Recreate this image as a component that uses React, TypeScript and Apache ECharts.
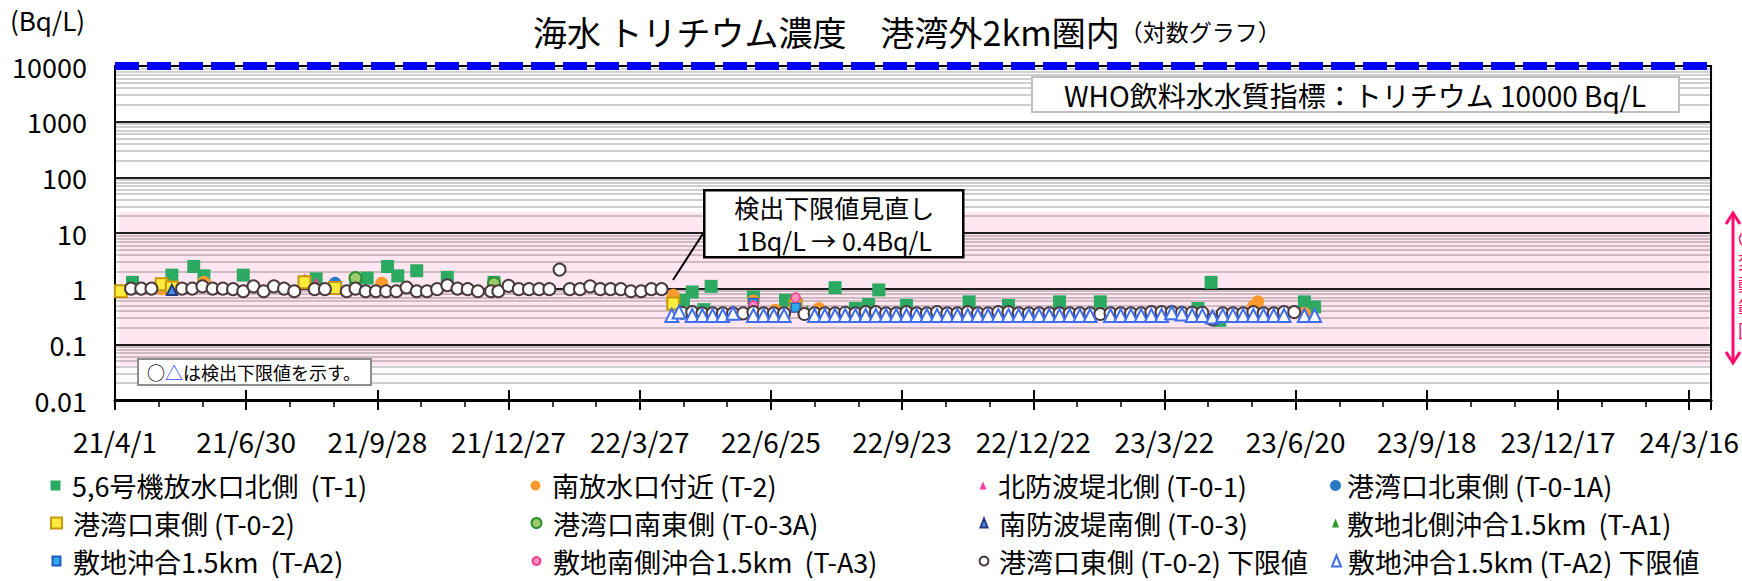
import React, { useEffect, useRef } from "react";
import * as echarts from "echarts";

const FONT = '"Noto Sans CJK JP", "Noto Sans", sans-serif';

// ---- axes ----
const ORIGIN = "2021-04-01";
const X_MAX_DATE = "2024-03-31";
const X_TICK_LABELS = ["21/4/1", "21/6/30", "21/9/28", "21/12/27", "22/3/27", "22/6/25", "22/9/23", "22/12/22", "23/3/22", "23/6/20", "23/9/18", "23/12/17", "24/3/16"];
const Y_TICK_LABELS = ["0.01", "0.1", "1", "10", "100", "1000", "10000"];
const WHO_LIMIT = 10000;
const BAND_RANGE = [23.5, 0.042];
const BAND_START = "2021-04-04";

// ---- series data: [date, Bq/L] ----
const T1: [string, number][] = [
  ["2021-04-13", 1.3], ["2021-05-10", 1.75], ["2021-05-25", 2.5], ["2021-06-01", 1.7], ["2021-06-28", 1.75],
  ["2021-08-17", 1.5], ["2021-09-13", 1.4], ["2021-09-21", 1.55], ["2021-10-05", 2.5], ["2021-10-12", 1.7],
  ["2021-10-25", 2.1], ["2021-11-15", 1.6], ["2021-12-17", 1.3],
  ["2022-04-26", 0.62], ["2022-05-02", 0.87], ["2022-05-10", 0.42], ["2022-05-15", 1.1], ["2022-06-13", 0.71],
  ["2022-07-05", 0.62], ["2022-08-08", 1.04], ["2022-08-22", 0.44], ["2022-08-31", 0.52], ["2022-09-07", 0.95],
  ["2022-09-26", 0.5], ["2022-11-08", 0.58], ["2022-12-05", 0.5], ["2023-01-09", 0.58], ["2023-02-06", 0.58],
  ["2023-04-14", 0.44], ["2023-04-23", 1.3], ["2023-04-29", 0.27], ["2023-06-26", 0.58], ["2023-07-03", 0.47],
];
const T2: [string, number][] = [
  ["2021-05-03", 1.0], ["2021-06-01", 1.3], ["2021-10-01", 1.25], ["2022-04-19", 0.76], ["2022-06-13", 0.6],
  ["2022-06-28", 0.41], ["2022-07-28", 0.44], ["2023-05-22", 0.48], ["2023-05-25", 0.58], ["2023-06-26", 0.36],
];
const T0_1: [string, number][] = [["2021-08-09", 1.6], ["2021-08-17", 1.35]];
const T0_1A: [string, number][] = [["2021-08-30", 1.25]];
const T0_2: [string, number][] = [
  ["2021-04-05", 0.9], ["2021-05-03", 1.2], ["2021-05-10", 1.05], ["2021-08-09", 1.3], ["2021-08-30", 1.03],
  ["2022-04-19", 0.54], ["2022-07-12", 0.5],
];
const T0_3A: [string, number][] = [["2021-09-13", 1.55], ["2021-12-17", 1.25]];
const T0_3: [string, number][] = [["2021-05-10", 0.95]];
const TA1: [string, number][] = [["2022-07-20", 0.44]];
const TA2: [string, number][] = [["2022-06-13", 0.55], ["2022-07-12", 0.46]];
const TA3: [string, number][] = [["2022-06-13", 0.5], ["2022-07-12", 0.69]];
const T0_2_LLD: [string, number][] = [
  ["2021-04-12", 1.0], ["2021-04-19", 1.0], ["2021-04-26", 1.0], ["2021-05-17", 1.0], ["2021-05-24", 1.0],
  ["2021-05-31", 1.1], ["2021-06-07", 1.0], ["2021-06-14", 1.0], ["2021-06-21", 0.98], ["2021-06-28", 0.9],
  ["2021-07-05", 1.1], ["2021-07-12", 0.9], ["2021-07-19", 1.1], ["2021-07-26", 1.0], ["2021-08-02", 0.9],
  ["2021-08-16", 0.98], ["2021-08-23", 0.98], ["2021-09-07", 0.9], ["2021-09-13", 1.0], ["2021-09-20", 0.9],
  ["2021-09-27", 0.9], ["2021-10-04", 0.9], ["2021-10-11", 0.9], ["2021-10-18", 1.05], ["2021-10-25", 0.9],
  ["2021-11-01", 0.9], ["2021-11-08", 0.98], ["2021-11-15", 1.15], ["2021-11-22", 1.0], ["2021-11-29", 0.98],
  ["2021-12-06", 0.9], ["2021-12-15", 0.9], ["2021-12-20", 0.9], ["2021-12-27", 1.12], ["2022-01-03", 0.98],
  ["2022-01-10", 0.98], ["2022-01-17", 0.98], ["2022-01-24", 0.98], ["2022-01-31", 2.2], ["2022-02-07", 0.98],
  ["2022-02-14", 0.98], ["2022-02-21", 1.1], ["2022-02-28", 0.98], ["2022-03-07", 0.98], ["2022-03-14", 0.98],
  ["2022-03-21", 0.9], ["2022-03-28", 0.9], ["2022-04-04", 0.98], ["2022-04-11", 0.98],
  ["2022-04-25", 0.37], ["2022-05-02", 0.38], ["2022-05-09", 0.36], ["2022-05-16", 0.36], ["2022-05-23", 0.36],
  ["2022-05-30", 0.36], ["2022-06-06", 0.36], ["2022-06-13", 0.38], ["2022-06-20", 0.36], ["2022-06-27", 0.36],
  ["2022-07-04", 0.36], ["2022-07-18", 0.35], ["2022-07-25", 0.36], ["2022-08-01", 0.36], ["2022-08-08", 0.36],
  ["2022-08-15", 0.37], ["2022-08-22", 0.36], ["2022-08-29", 0.38], ["2022-09-05", 0.38], ["2022-09-12", 0.36],
  ["2022-09-19", 0.36], ["2022-09-26", 0.38], ["2022-10-03", 0.36], ["2022-10-10", 0.36], ["2022-10-17", 0.38],
  ["2022-10-24", 0.36], ["2022-10-31", 0.36], ["2022-11-07", 0.38], ["2022-11-14", 0.36], ["2022-11-21", 0.36],
  ["2022-11-28", 0.38], ["2022-12-05", 0.38], ["2022-12-12", 0.36], ["2022-12-19", 0.36], ["2022-12-26", 0.36],
  ["2023-01-02", 0.36], ["2023-01-09", 0.36], ["2023-01-16", 0.36], ["2023-01-23", 0.36], ["2023-01-30", 0.36],
  ["2023-02-06", 0.35], ["2023-02-13", 0.36], ["2023-02-20", 0.36], ["2023-02-27", 0.36], ["2023-03-06", 0.36],
  ["2023-03-13", 0.38], ["2023-03-20", 0.38], ["2023-03-27", 0.38], ["2023-04-03", 0.37], ["2023-04-10", 0.37],
  ["2023-04-17", 0.37], ["2023-04-24", 0.28], ["2023-05-01", 0.36], ["2023-05-08", 0.36], ["2023-05-15", 0.36],
  ["2023-05-22", 0.38], ["2023-05-29", 0.36], ["2023-06-05", 0.36], ["2023-06-12", 0.38], ["2023-06-19", 0.38],
];
const TA2_LLD: [string, number][] = [
  ["2022-04-18", 0.33], ["2022-04-23", 0.38], ["2022-05-02", 0.33], ["2022-05-09", 0.33], ["2022-05-16", 0.33],
  ["2022-05-23", 0.33], ["2022-05-30", 0.36], ["2022-06-13", 0.33], ["2022-06-20", 0.33], ["2022-06-27", 0.33],
  ["2022-07-04", 0.33], ["2022-07-25", 0.33], ["2022-08-01", 0.33], ["2022-08-08", 0.33], ["2022-08-15", 0.33],
  ["2022-08-22", 0.33], ["2022-08-29", 0.33], ["2022-09-05", 0.33], ["2022-09-12", 0.33], ["2022-09-19", 0.33],
  ["2022-09-26", 0.33], ["2022-10-03", 0.33], ["2022-10-10", 0.33], ["2022-10-17", 0.33], ["2022-10-24", 0.33],
  ["2022-10-31", 0.33], ["2022-11-07", 0.33], ["2022-11-14", 0.33], ["2022-11-21", 0.33], ["2022-11-28", 0.33],
  ["2022-12-05", 0.33], ["2022-12-12", 0.33], ["2022-12-19", 0.33], ["2022-12-26", 0.33], ["2023-01-02", 0.33],
  ["2023-01-09", 0.33], ["2023-01-16", 0.33], ["2023-01-23", 0.33], ["2023-01-30", 0.33], ["2023-02-13", 0.33],
  ["2023-02-20", 0.33], ["2023-02-27", 0.33], ["2023-03-06", 0.33], ["2023-03-13", 0.33], ["2023-03-20", 0.33],
  ["2023-03-27", 0.37], ["2023-04-03", 0.35], ["2023-04-10", 0.33], ["2023-04-17", 0.33], ["2023-04-24", 0.31],
  ["2023-05-01", 0.33], ["2023-05-08", 0.33], ["2023-05-15", 0.33], ["2023-05-22", 0.33], ["2023-05-29", 0.33],
  ["2023-06-05", 0.33], ["2023-06-12", 0.33], ["2023-06-26", 0.33], ["2023-07-03", 0.33],
];

const SERIES_NAMES = [
  "5,6号機放水口北側  (T-1)", "南放水口付近 (T-2)", "北防波堤北側 (T-0-1)", "港湾口北東側 (T-0-1A)",
  "港湾口東側 (T-0-2)", "港湾口南東側 (T-0-3A)", "南防波堤南側 (T-0-3)", "敷地北側沖合1.5km  (T-A1)",
  "敷地沖合1.5km  (T-A2)", "敷地南側沖合1.5km  (T-A3)", "港湾口東側 (T-0-2) 下限値", "敷地沖合1.5km (T-A2) 下限値",
];
const SERIES_DATA = [T1, T2, T0_1, T0_1A, T0_2, T0_3A, T0_3, TA1, TA2, TA3, T0_2_LLD, TA2_LLD];

// ---- styles ----
const STYLES = [
  { symbol: "rect", size: 13, fill: "#2DAA62", stroke: "#2DAA62", bw: 0, lw: 10, lh: 10 },
  { symbol: "circle", size: 13, fill: "#FF9A2F", stroke: "#FF9A2F", bw: 0, lw: 10, lh: 12 },
  { symbol: "triangle", size: 8, fill: "#FF3D9A", stroke: "#FF3D9A", bw: 0, lw: 7, lh: 8 },
  { symbol: "circle", size: 13, fill: "#2A7BC6", stroke: "#2A7BC6", bw: 0, lw: 11, lh: 12 },
  { symbol: "rect", size: 12, fill: "#FFEB3B", stroke: "#C8960C", bw: 2, lw: 11, lh: 11 },
  { symbol: "circle", size: 12, fill: "#9CCB6B", stroke: "#2F8F2F", bw: 2, lw: 10, lh: 11 },
  { symbol: "triangle", size: 10, fill: "#4F8FE0", stroke: "#1F3A80", bw: 2, lw: 7, lh: 9 },
  { symbol: "triangle", size: 7, fill: "#2E9A2E", stroke: "#2E9A2E", bw: 0, lw: 7, lh: 9 },
  { symbol: "rect", size: 9, fill: "#2FA8EC", stroke: "#1F5CBF", bw: 1.5, lw: 8, lh: 9 },
  { symbol: "circle", size: 9, fill: "#FF8DBF", stroke: "#F0408F", bw: 1.5, lw: 8, lh: 9 },
  { symbol: "circle", size: 12, fill: "#FFFFFF", stroke: "#4A3A3E", bw: 2, lw: 9, lh: 10 },
  { symbol: "triangle", size: 13, fill: "#FFFFFF", stroke: "#3F6FF0", bw: 2, lw: 9, lh: 11 },
];
const LEG_ICON_X = [55.5, 535.5, 983, 1335.5];
const LEG_TEXT_X = [72, 552, 998, 1347];
const LEG_ROW_Y = [485.5, 523, 561];

const DAY = 86400000;
const dayOf = (d: string) => Math.round((Date.parse(d) - Date.parse(ORIGIN)) / DAY);

export default function App() {
  const ref = useRef<HTMLDivElement>(null);
  useEffect(() => {
    const chart = echarts.init(ref.current!, null, { renderer: "svg" });
    const xMax = dayOf(X_MAX_DATE);

    const minorVals: number[] = [];
    for (let e = -2; e < 4; e++) for (let m = 2; m <= 9; m++) minorVals.push(m * Math.pow(10, e));
    const majorVals = [0.1, 1, 10, 100, 1000];

    const dataSeries = SERIES_NAMES.map((name, i) => {
      const s = STYLES[i];
      return {
        name,
        type: "scatter",
        symbol: s.symbol,
        symbolSize: s.size,
        z: 3,
        silent: true,
        itemStyle: { color: s.fill, borderColor: s.stroke, borderWidth: s.bw, opacity: 1 },
        emphasis: { disabled: true },
        data: SERIES_DATA[i].map(([d, v]) => [dayOf(d), v]),
      };
    });

    const legends = SERIES_NAMES.map((name, i) => {
      const s = STYLES[i];
      const row = Math.floor(i / 4);
      const col = i % 4;
      const pad = LEG_TEXT_X[col] - (LEG_ICON_X[col] + s.lw / 2) - 5;
      return {
        show: true,
        data: [name],
        left: LEG_ICON_X[col] - s.lw / 2,
        top: LEG_ROW_Y[row] - 16,
        orient: "horizontal",
        itemWidth: s.lw,
        itemHeight: s.lh,
        itemGap: 0,
        padding: 0,
        selectedMode: false,
        textStyle: { fontSize: 27, fontFamily: FONT, color: "#000", lineHeight: 32, padding: [0, 0, 0, pad] },
      };
    });

    const option: any = {
      animation: false,
      backgroundColor: "#fff",
      title: {
        text: "{a|海水 トリチウム濃度　港湾外2km圏内}{b|（対数グラフ）}",
        left: 533,
        top: 10,
        padding: 0,
        textStyle: {
          rich: {
            a: { fontSize: 34, fontWeight: "normal", fontFamily: FONT, color: "#000", lineHeight: 42 },
            b: { fontSize: 23, fontWeight: "normal", fontFamily: FONT, color: "#000", lineHeight: 42 },
          },
        },
      },
      legend: legends,
      grid: { left: 115, right: 30, top: 66, bottom: 181, show: true, borderColor: "#000", borderWidth: 2, backgroundColor: "transparent" },
      xAxis: [
        {
          type: "value", min: 0, max: xMax, interval: 90, position: "bottom",
          axisLine: { show: true, lineStyle: { color: "#000", width: 3 } },
          axisTick: { show: true, length: 10, lineStyle: { color: "#000", width: 2 } },
          minorTick: { show: true, splitNumber: 3, length: 7, lineStyle: { color: "#000", width: 1.5 } },
          splitLine: { show: false },
          axisLabel: {
            show: true, margin: 27, fontSize: 28, lineHeight: 28, fontFamily: FONT, color: "#000",
            showMaxLabel: false,
            formatter: (v: number) => (v % 90 === 0 ? X_TICK_LABELS[v / 90] ?? "" : ""),
          },
        },
        {
          type: "value", min: 0, max: xMax, interval: 90, position: "bottom",
          axisLine: { show: false },
          axisTick: { show: true, inside: true, length: 10, lineStyle: { color: "#000", width: 2 } },
          axisLabel: { show: false },
          splitLine: { show: false },
        },
      ],
      yAxis: {
        type: "log", logBase: 10, min: 0.01, max: 10000,
        axisLine: { show: true, lineStyle: { color: "#000", width: 2 } },
        axisTick: { show: false },
        splitLine: { show: false },
        axisLabel: {
          margin: 28, fontSize: 27, fontFamily: FONT, color: "#000",
          formatter: (v: number) => Y_TICK_LABELS[Math.round(Math.log10(v)) + 2],
        },
      },
      series: [
        {
          type: "line", data: [], silent: true,
          markArea: {
            silent: true, z: -2,
            itemStyle: { color: "#FFE6F0" },
            data: [[{ xAxis: dayOf(BAND_START), yAxis: BAND_RANGE[0] }, { xAxis: xMax - 1, yAxis: BAND_RANGE[1] }]],
          },
        },
        {
          type: "line", data: [], silent: true,
          markLine: {
            silent: true, z: -1, symbol: ["none", "none"], label: { show: false },
            emphasis: { disabled: true },
            data: [
              ...minorVals.map((v) => ({ yAxis: v, lineStyle: { color: "rgba(0,0,0,0.25)", width: 1.5, type: "solid" } })),
              ...majorVals.map((v) => ({ yAxis: v, lineStyle: { color: "rgba(0,0,0,0.88)", width: 2, type: "solid" } })),
            ],
          },
        },
        {
          type: "line", data: [], silent: true,
          markLine: {
            silent: true, z: 6, symbol: ["none", "none"], label: { show: false },
            emphasis: { disabled: true },
            data: [{ yAxis: WHO_LIMIT, lineStyle: { color: "#0000FF", width: 8, type: [24, 8], cap: "butt" } }],
          },
        },
        { type: "scatter", xAxisIndex: 1, data: [], silent: true },
        ...dataSeries,
      ],
      graphic: [
        { type: "text", left: 10, top: 6, z: 10, style: { text: "(Bq/L)", fontSize: 26, fontFamily: FONT, fill: "#000" } },
        {
          type: "group", left: 1031, top: 76, z: 10,
          children: [
            { type: "rect", z: 10, shape: { x: 0, y: 0, width: 647, height: 35 }, style: { fill: "#fff", stroke: "#BFBFBF", lineWidth: 2 } },
            { type: "text", z: 11, x: 323, y: 18, style: { text: "WHO飲料水水質指標：トリチウム 10000 Bq/L", fontSize: 28, lineHeight: 30, fontFamily: FONT, fill: "#000", align: "center", verticalAlign: "middle" } },
          ],
        },
        { type: "line", z: 10, shape: { x1: 706, y1: 229, x2: 673, y2: 280 }, style: { stroke: "#000", lineWidth: 2 } },
        {
          type: "group", left: 703, top: 189, z: 10,
          children: [
            { type: "rect", z: 10, shape: { x: 0, y: 0, width: 259, height: 67 }, style: { fill: "#fff", stroke: "#000", lineWidth: 2.5 } },
            { type: "text", z: 11, x: 130, y: 17, style: { text: "検出下限値見直し", fontSize: 25, lineHeight: 28, fontFamily: FONT, fill: "#000", align: "center", verticalAlign: "middle" } },
            { type: "text", z: 11, x: 130, y: 50, style: { text: "1Bq/L → 0.4Bq/L", fontSize: 25, lineHeight: 28, fontFamily: FONT, fill: "#000", align: "center", verticalAlign: "middle" } },
          ],
        },
        {
          type: "group", left: 137, top: 358, z: 10,
          children: [
            { type: "rect", z: 10, shape: { x: 0, y: 0, width: 233, height: 26 }, style: { fill: "#fff", stroke: "#8C8C8C", lineWidth: 2 } },
            {
              type: "text", z: 11, x: 116, y: 13,
              style: {
                text: "{k|○}{b|△}{k|は検出下限値を示す。}", align: "center", verticalAlign: "middle",
                rich: { k: { fontSize: 18, fontFamily: FONT, fill: "#000", color: "#000" }, b: { fontSize: 18, fontFamily: FONT, color: "#3344FF", fill: "#3344FF" } },
              },
            },
          ],
        },
        { type: "line", z: 10, shape: { x1: 1733, y1: 214, x2: 1733, y2: 362 }, style: { stroke: "#FF0A6C", lineWidth: 3 } },
        { type: "polyline", z: 10, shape: { points: [[1726, 224], [1733, 213], [1740, 224]] }, style: { stroke: "#FF0A6C", lineWidth: 3, fill: "none" } },
        { type: "polyline", z: 10, shape: { points: [[1726, 352], [1733, 363], [1740, 352]] }, style: { stroke: "#FF0A6C", lineWidth: 3, fill: "none" } },
        { type: "text", z: 10, x: 1738, y: 226, style: { text: "〇\n変\n動\n範\n囲", fontSize: 18, lineHeight: 23, fontFamily: FONT, fill: "#FF0A6C" } },
      ],
    };
    chart.setOption(option);
    return () => chart.dispose();
  }, []);
  return <div ref={ref} style={{ position: "absolute", left: 0, top: 0, width: 1742, height: 581, background: "#fff" }} />;
}
